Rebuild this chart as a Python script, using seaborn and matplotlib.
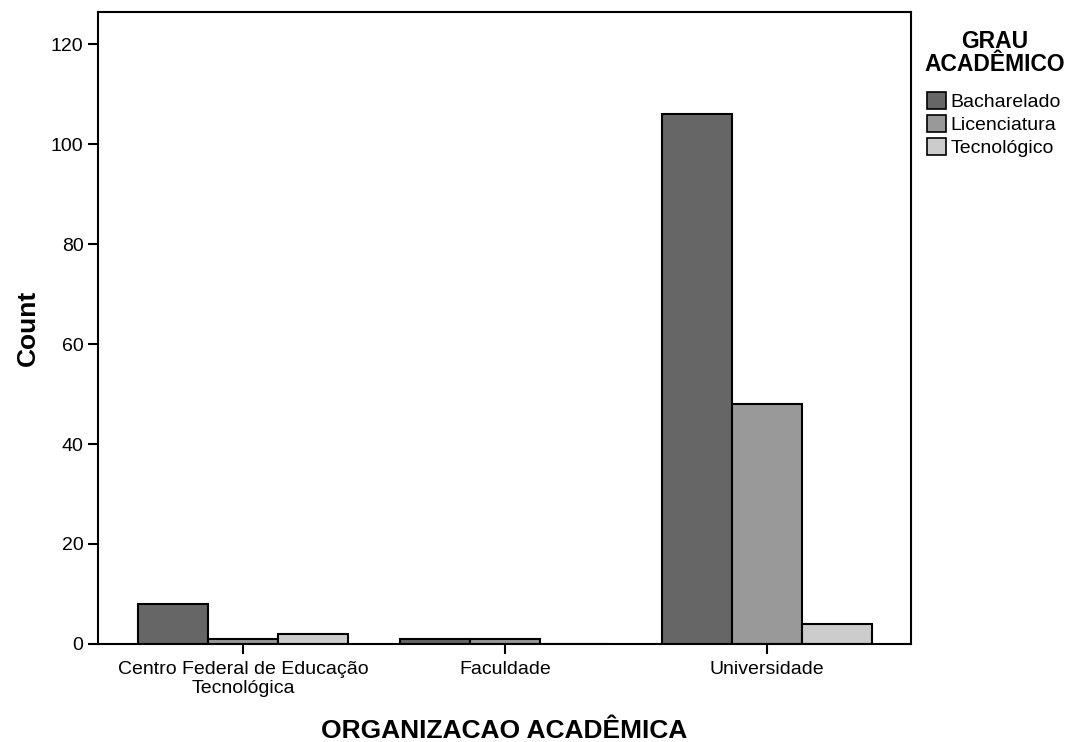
import pandas as pd
import matplotlib.pyplot as plt
import seaborn as sns

organizacao = ['Centro Federal de Educação\nTecnológica', 'Faculdade', 'Universidade']
graus = ['Bacharelado', 'Licenciatura', 'Tecnológico']
bacharelado = [8, 1, 106]
licenciatura = [1, 1, 48]
tecnologico = [2, 0, 4]
cores = ['#666666', '#999999', '#cccccc']

data = pd.DataFrame({
    'org': organizacao * 3,
    'grau': [g for g in graus for _ in organizacao],
    'count': bacharelado + licenciatura + tecnologico,
})

sns.set_style('white')
plt.rcParams['font.family'] = ['Liberation Sans', 'DejaVu Sans']
plt.rcParams['text.color'] = 'black'
plt.rcParams['axes.labelcolor'] = 'black'

fig = plt.figure(figsize=(10.7, 7.42), dpi=100)
ax = fig.add_axes([98 / 1070, 1 - 644 / 742, 813 / 1070, 632 / 742])

sns.barplot(data=data, x='org', y='count', hue='grau', hue_order=graus,
            order=organizacao, palette=cores, edgecolor='black', linewidth=1.5,
            width=0.8, saturation=1, ax=ax)

ax.set_xlim(-0.553, 2.55)
ax.set_ylim(0, 126.4)
ax.set_yticks([0, 20, 40, 60, 80, 100, 120])
for s in ax.spines.values():
    s.set_color('black')
    s.set_linewidth(1.5)
ax.tick_params(axis='both', direction='out', length=7, width=1.5, color='black',
               labelsize=14, labelcolor='black', bottom=True, left=True)
ax.tick_params(axis='x', pad=5)
ax.set_xlabel('ORGANIZACAO ACADÊMICA', fontsize=19, fontweight='bold', labelpad=16)
ax.set_ylabel('Count', fontsize=19, fontweight='bold', labelpad=8)

leg = ax.legend(title='GRAU\nACADÊMICO', loc='upper left', bbox_to_anchor=(1.016, 0.972),
                frameon=False, fontsize=14, handlelength=0.95, handleheight=0.95,
                handletextpad=0.25, labelspacing=0.2, borderaxespad=0, borderpad=0,
                alignment='center')
title = leg.get_title()
title.set_fontweight('bold')
title.set_fontsize(16.5)
title.set_linespacing(1.0)
title.set_multialignment('center')
leg._legend_box.sep = 12
for h in leg.legend_handles:
    h.set_edgecolor('black')
    h.set_linewidth(1.2)

fig.savefig('out.png', dpi=100)
